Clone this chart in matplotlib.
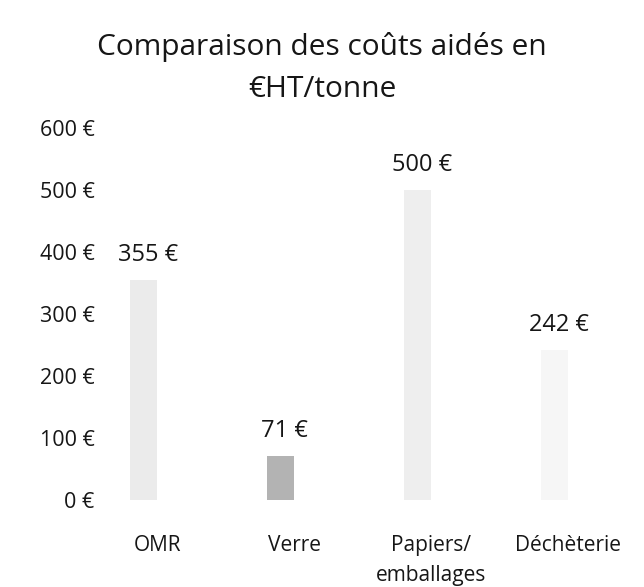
import matplotlib
matplotlib.use("Agg")
import matplotlib.pyplot as plt

categories = ["OMR", "Verre", "Papiers/\nemballages", "Déchèterie"]
values = [355, 71, 500, 242]
colors = ["#ebebeb", "#b3b3b3", "#eeeeee", "#f6f6f6"]
yticks = [0, 100, 200, 300, 400, 500, 600]
title = "Comparaison des coûts aidés en\n€HT/tonne"

plt.rcParams['font.family'] = ['Open Sans', 'DejaVu Sans']
txt = "#161616"

fig = plt.figure(figsize=(6.44, 5.87), dpi=100)
ax = fig.add_axes([100/644, 87/587, 520/644, 372/587])

x = list(range(len(categories)))
ax.bar(x, values, width=0.2, color=colors, edgecolor="none")
for xi, v in zip(x, values):
    ax.annotate(f"{v} €", (xi, v), xytext=(3, 18), textcoords="offset points",
                ha="center", va="center", fontsize=17, color=txt)

ax.set_xlim(-0.32, 3.48)
ax.set_ylim(0, 600)
ax.set_yticks(yticks)
ax.set_yticklabels([f"{t} €" for t in yticks], fontsize=15.5, color=txt)
ax.set_xticks([])
for xi, cat in zip(x, categories):
    ax.annotate(cat, (xi, 0), xytext=(10, -25), textcoords="offset points",
                ha="center", va="top", fontsize=15, color=txt, linespacing=1.6,
                annotation_clip=False)
ax.tick_params(axis="y", length=0, pad=4)
for s in ax.spines.values():
    s.set_visible(False)

fig.text(322/644, 1 - 68/587, title, ha="center", va="center", fontsize=21.5,
         color=txt, linespacing=1.55)

fig.savefig("out.png", dpi=100)
